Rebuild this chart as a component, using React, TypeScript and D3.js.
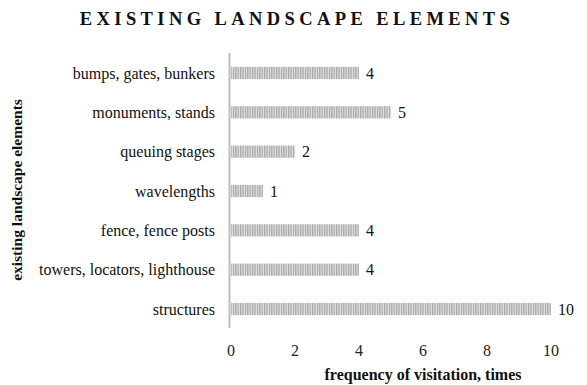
import React from "react";
import { scaleLinear, scaleBand } from "d3";

const categories = [
  "bumps, gates, bunkers",
  "monuments, stands",
  "queuing stages",
  "wavelengths",
  "fence, fence posts",
  "towers, locators, lighthouse",
  "structures",
];
const values = [4, 5, 2, 1, 4, 4, 10];
const xTicks = [0, 2, 4, 6, 8, 10];

const font = "Liberation Serif, Times New Roman, serif";

export default function App() {
  const width = 587;
  const height = 385;
  const x0 = 231;

  const xScale = scaleLinear().domain([0, 10]).range([x0, 551]);
  const yScale = scaleBand<string>()
    .domain(categories)
    .range([53.3, 328.7])
    .paddingInner(0.69)
    .paddingOuter(0.345);

  return (
    <svg
      width={width}
      height={height}
      style={{ position: "absolute", left: 0, top: 0, background: "#fff", fontFamily: font }}
    >
      <defs>
        <pattern id="stripes" width="2.4" height="4" patternUnits="userSpaceOnUse">
          <rect width="2.4" height="4" fill="#e4e4e4" />
          <rect width="1.3" height="4" fill="#a8a8a8" />
        </pattern>
      </defs>
      <rect width={width} height={height} fill="#fff" />

      <text
        x={297}
        y={25}
        textAnchor="middle"
        fontSize={18.5}
        fontWeight="bold"
        letterSpacing={4.4}
        fill="#111"
      >
        EXISTING LANDSCAPE ELEMENTS
      </text>

      {categories.map((c, i) => {
        const y = yScale(c)!;
        const h = yScale.bandwidth();
        return (
          <g key={c}>
            <rect
              x={xScale(0)}
              y={y}
              width={xScale(values[i]) - xScale(0)}
              height={h}
              fill="url(#stripes)"
            />
            <text
              x={215}
              y={y + h / 2}
              dy="0.35em"
              textAnchor="end"
              fontSize={16}
              fill="#111"
            >
              {c}
            </text>
            <text
              x={xScale(values[i]) + 7}
              y={y + h / 2}
              dy="0.35em"
              fontSize={16}
              fill="#111"
            >
              {values[i]}
            </text>
          </g>
        );
      })}

      <line x1={229.5} x2={229.5} y1={53} y2={328} stroke="#bdbdbd" strokeWidth={2} />

      {xTicks.map((t) => (
        <text
          key={t}
          x={xScale(t)}
          y={350}
          dy="0.35em"
          textAnchor="middle"
          fontSize={16}
          fill="#222"
        >
          {t}
        </text>
      ))}

      <text
        x={423}
        y={380}
        textAnchor="middle"
        fontSize={16}
        fontWeight="bold"
        fill="#111"
      >
        frequency of visitation, times
      </text>

      <text
        transform="translate(22,190) rotate(-90)"
        textAnchor="middle"
        fontSize={15.5}
        fontWeight="bold"
        fill="#111"
      >
        existing landscape elements
      </text>
    </svg>
  );
}
